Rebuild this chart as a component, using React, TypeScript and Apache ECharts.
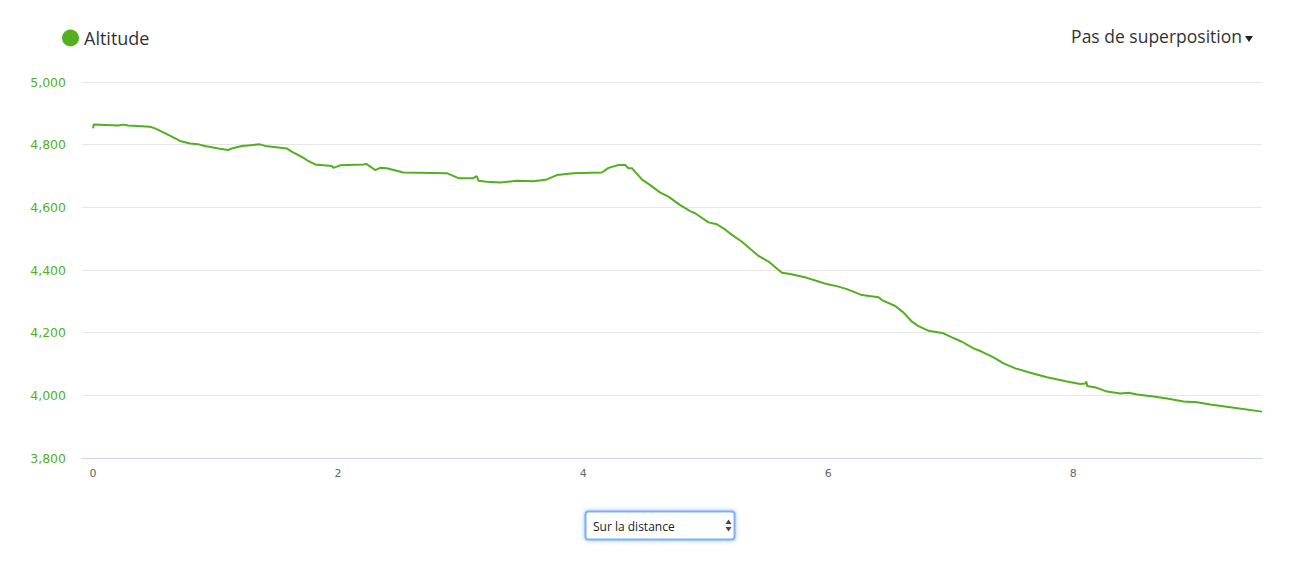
import React, { useEffect, useRef } from "react";
import * as echarts from "echarts";

const distanceKm = [
  0.0, 0.005, 0.207, 0.247, 0.288, 0.465, 0.506, 0.615, 0.71, 0.792, 0.86, 0.914, 1.023, 1.104, 1.132,
  1.214, 1.363, 1.404, 1.581, 1.622, 1.717, 1.744, 1.812, 1.949, 1.962, 2.016, 2.207, 2.234, 2.302,
  2.343, 2.398, 2.533, 2.887, 2.982, 3.104, 3.132, 3.145, 3.214, 3.322, 3.459, 3.594, 3.704, 3.785,
  3.921, 4.153, 4.207, 4.288, 4.343, 4.37, 4.398, 4.479, 4.547, 4.629, 4.696, 4.792, 4.873, 4.914,
  5.023, 5.091, 5.145, 5.214, 5.296, 5.431, 5.513, 5.622, 5.69, 5.826, 5.908, 5.989, 6.084, 6.153,
  6.275, 6.411, 6.438, 6.547, 6.615, 6.683, 6.737, 6.819, 6.941, 7.01, 7.091, 7.186, 7.255, 7.349,
  7.431, 7.527, 7.649, 7.717, 7.785, 7.949, 8.057, 8.098, 8.106, 8.114, 8.193, 8.275, 8.384, 8.451,
  8.52, 8.655, 8.765, 8.9, 9.01, 9.118, 9.282, 9.54,
];

const altitudeM = [
  4852, 4864, 4861, 4864, 4861, 4857, 4852, 4831, 4812, 4804, 4801, 4796, 4788, 4783, 4788,
  4796, 4801, 4796, 4788, 4778, 4758, 4751, 4737, 4732, 4726, 4734, 4737, 4738, 4719,
  4726, 4725, 4711, 4709, 4693, 4693, 4700, 4685, 4682, 4679, 4685, 4683, 4689, 4703,
  4709, 4711, 4726, 4735, 4735, 4725, 4725, 4689, 4671, 4647, 4634, 4607, 4588, 4581,
  4552, 4546, 4533, 4512, 4490, 4445, 4427, 4391, 4387, 4375, 4365, 4355, 4347, 4339,
  4320, 4313, 4304, 4285, 4264, 4235, 4221, 4206, 4198, 4185, 4171, 4150, 4139, 4121,
  4102, 4086, 4072, 4065, 4058, 4044, 4036, 4038, 4044, 4030, 4024, 4012, 4006, 4008,
  4003, 3996, 3990, 3980, 3978, 3971, 3962, 3948,
];

const xTickLabels = [0, 2, 4, 6, 8];
const seriesName = "Altitude";
const overlayLabel = "Pas de superposition";
const selectLabel = "Sur la distance";

const GREEN = "#52b01e";

export default function App() {
  const ref = useRef<HTMLDivElement>(null);

  useEffect(() => {
    if (!ref.current) return;
    const chart = echarts.init(ref.current, null, { renderer: "svg" });
    const data = distanceKm.map((d, i) => [d, altitudeM[i]]);
    chart.setOption({
      animation: false,
      backgroundColor: "#ffffff",
      grid: { left: 82, right: 44, top: 82, bottom: 121, containLabel: false },
      legend: {
        left: 62,
        top: 29,
        padding: 0,
        icon: "circle",
        itemWidth: 17,
        itemHeight: 17,
        textStyle: { fontFamily: "Open Sans", fontSize: 18, color: "#333333" },
        data: [seriesName],
      },
      xAxis: {
        type: "value",
        min: -0.09,
        max: 9.54,
        axisLine: { show: true, lineStyle: { color: "#ccd6eb", width: 1 } },
        axisTick: { show: false },
        splitLine: { show: false },
        axisLabel: {
          customValues: xTickLabels,
          color: "#666666",
          fontSize: 11,
          fontFamily: "DejaVu Sans",
          margin: 10,
        },
      },
      yAxis: {
        type: "value",
        min: 3800,
        max: 5000,
        interval: 200,
        axisLine: { show: false },
        axisTick: { show: false },
        splitLine: { show: true, lineStyle: { color: "#e6e6e6", width: 1 } },
        axisLabel: {
          color: GREEN,
          fontSize: 12.5,
          fontFamily: "DejaVu Sans",
          margin: 16,
          formatter: (v: number) => v.toLocaleString("en-US"),
        },
      },
      series: [
        {
          name: seriesName,
          type: "line",
          data,
          showSymbol: false,
          symbol: "none",
          color: GREEN,
          lineStyle: { color: GREEN, width: 2 },
        },
      ],
      graphic: [
        {
          type: "text",
          right: 64,
          top: 27,
          style: { text: overlayLabel, fontFamily: "Open Sans", fontSize: 17.5, fill: "#333333" },
        },
        {
          type: "polygon",
          shape: { points: [[1245, 36], [1253, 36], [1249, 42]] },
          style: { fill: "#222222" },
        },
        {
          type: "rect",
          shape: { x: 585.5, y: 511.5, width: 149, height: 28, r: 3 },
          style: {
            fill: "#ffffff",
            stroke: "#7fb0f5",
            lineWidth: 2,
            shadowBlur: 4,
            shadowColor: "rgba(80,150,255,0.6)",
          },
        },
        {
          type: "text",
          x: 593,
          y: 526,
          style: {
            text: selectLabel,
            fontFamily: "Open Sans",
            fontSize: 12,
            fill: "#222222",
            verticalAlign: "middle",
          },
        },
        {
          type: "polygon",
          shape: { points: [[725.5, 524], [731.5, 524], [728.5, 519.5]] },
          style: { fill: "#444444" },
        },
        {
          type: "polygon",
          shape: { points: [[725.5, 527], [731.5, 527], [728.5, 531.5]] },
          style: { fill: "#444444" },
        },
      ],
    });
    return () => chart.dispose();
  }, []);

  return (
    <div
      ref={ref}
      style={{ position: "fixed", left: 0, top: 0, width: 1306, height: 579, background: "#fff" }}
    />
  );
}
